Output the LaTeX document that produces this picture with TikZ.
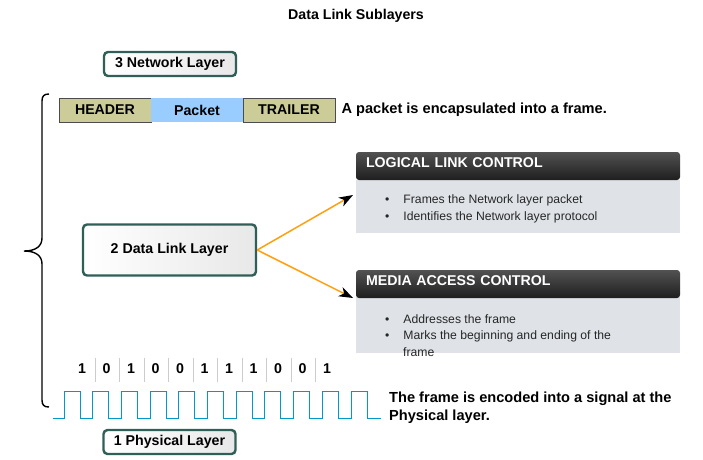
\documentclass[tikz,border=0pt]{standalone}
\usepackage{fontspec}
\setmainfont{Liberation Sans}
\usetikzlibrary{positioning,arrows.meta}
\definecolor{layerline}{HTML}{2F5F57}
\definecolor{khaki}{HTML}{CCCC99}
\definecolor{pktblue}{HTML}{99CCFF}
\definecolor{wire}{HTML}{0099CC}
\definecolor{panel}{HTML}{DFE3E8}
\definecolor{linkorange}{HTML}{FFA010}

\begin{document}
\begin{tikzpicture}[x=1pt,y=-1pt,font=\bfseries\fontsize{14.2}{16}\selectfont,
		layer/.style={draw=layerline,line width=2.4pt,rounded corners=4pt,
			left color=white,right color=gray!18,minimum height=24pt,inner sep=2pt},
		field/.style={draw=black!70,line width=.6pt,minimum width=92pt,
			minimum height=24pt,outer sep=0pt,inner sep=1pt},
		head/.style={rounded corners=3pt,top color=black!68,bottom color=black!88,
			text=white,minimum width=324pt,minimum height=28pt,anchor=north west,
			text width=318pt,text depth=6pt,align=left,inner sep=0pt,outer sep=0pt},
		panelbody/.style={fill=panel,minimum width=324pt,anchor=north west,outer sep=0pt},
		bul/.style={font=\mdseries\fontsize{12.2}{14}\selectfont,text=black!85,anchor=west,inner sep=0pt},
		link/.style={linkorange,line width=1.5pt,-{Stealth[black,length=14pt,width=10pt,inset=4pt]}},
		caption/.style={font=\bfseries\fontsize{14.6}{18}\selectfont},
	]
		\useasboundingbox (0,0) rectangle (703,459);
		\node (title) at (356,16) {Data Link Sublayers};

		% layers
		\node[layer,minimum width=132pt] (net) at (170,64) {3 Network Layer};
		\node[layer,minimum width=173pt,minimum height=51pt] (dll) at (169.5,250) {2 Data Link Layer};
		\node[layer,minimum width=132pt] (phy) at (169.5,442) {1 Physical Layer};

		% frame
		\node[field,fill=khaki] (hdr) at (105,110) {HEADER};
		\node[field,fill=pktblue,draw=none,right=0pt of hdr] (pkt) {Packet};
		\node[field,fill=khaki,right=0pt of pkt] (trl) {TRAILER};
		\node[caption,right=3pt of trl] (framecap) {A packet is encapsulated into a frame.};

		% sublayer panels
		\node[panelbody,minimum height=53pt] (llcbody) at (356,180) {};
		\node[head] (llc) at (356,152) {\hspace*{7pt}LOGICAL LINK CONTROL};
		\node[bul] (llca) at (385,200) {\textbullet\hspace{14pt}Frames the Network layer packet};
		\node[bul] (llcb) at (385,217) {\textbullet\hspace{14pt}Identifies the Network layer protocol};

		\node[panelbody,minimum height=56pt] (macbody) at (356,297) {};
		\node[head] (mac) at (356,270) {\hspace*{7pt}MEDIA ACCESS CONTROL};
		\node[bul] (maca) at (385,319) {\textbullet\hspace{14pt}Addresses the frame};
		\node[bul] (macb) at (385,336) {\textbullet\hspace{14pt}Marks the beginning and ending of the};
		\node[bul] (macc) at (403,352) {frame};

		\coordinate (llcin) at (353,195);
		\coordinate (macin) at (353,298);
		\draw[link] (dll.east) -- (llcin);
		\draw[link] (dll.east) -- (macin);

		% bits and signal
		\foreach \b [count=\i] in {1,0,1,0,0,1,1,1,0,0,1}
			\node (bit\i) at ({82+24.5*(\i-1)},369) {\b};
		\foreach \i in {0,...,9}
			\draw[black!20,line width=1pt] ({95+24.5*\i},358) -- ({95+24.5*\i},382);
		\draw[wire,line width=1pt] (53,418)
			foreach \i in {0,...,10} {
				-- ({64+28.7*\i},418) -- ({64+28.7*\i},391)
				-- ({80+28.7*\i},391) -- ({80+28.7*\i},418)
			} -- (381,418);
		\node[caption,anchor=north west,align=left,inner sep=0pt]
			(sigcap) at (389,392) {The frame is encoded into a signal at the\\Physical layer.};

		% brace
		\draw[line width=1.4pt] (49,94) .. controls (44,94) and (42,96) .. (42,101)
			-- (42,238) .. controls (42,246) and (36,251) .. (24,251)
			.. controls (36,251) and (42,256) .. (42,264)
			-- (42,400) .. controls (42,405) and (44,407) .. (49,407);
	\end{tikzpicture}
\end{document}
